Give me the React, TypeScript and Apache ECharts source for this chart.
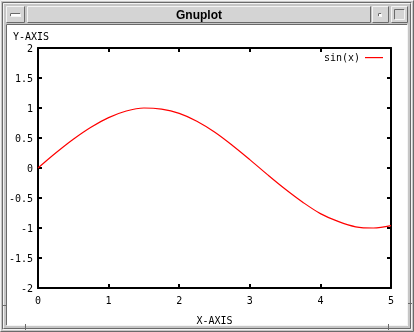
import React, { useEffect, useRef } from "react";
import * as echarts from "echarts";

const xValues = [0, 0.25, 0.5, 0.75, 1, 1.25, 1.5, 1.75, 2, 2.25, 2.5, 2.75, 3, 3.25, 3.5, 3.75, 4, 4.25, 4.5, 4.75, 5];
const yValues = [0, 0.25, 0.48, 0.68, 0.84, 0.95, 1.0, 0.98, 0.91, 0.78, 0.6, 0.38, 0.14, -0.11, -0.35, -0.57, -0.76, -0.89, -0.98, -1.0, -0.96];
const seriesName = "sin(x)";
const xTitle = "X-AXIS";
const yTitle = "Y-AXIS";
const windowTitle = "Gnuplot";

const MONO = "DejaVu Sans Mono";
const DARK = "#6a6a6a";
const LIGHT = "#f4f4f4";
const FRAME = "#c6c6c6";
const BAR = "#d4d4d4";

function bevel(x: number, y: number, w: number, h: number, fill: string, raised = true) {
  const tl = raised ? LIGHT : DARK;
  const br = raised ? DARK : LIGHT;
  return [
    { type: "rect", z: -5, silent: true, shape: { x, y, width: w, height: h }, style: { fill } },
    { type: "polyline", z: -4, silent: true, shape: { points: [[x + 0.5, y + h - 0.5], [x + 0.5, y + 0.5], [x + w - 0.5, y + 0.5]] }, style: { stroke: tl, lineWidth: 1, fill: null } },
    { type: "polyline", z: -4, silent: true, shape: { points: [[x + 0.5, y + h - 0.5], [x + w - 0.5, y + h - 0.5], [x + w - 0.5, y + 0.5]] }, style: { stroke: br, lineWidth: 1, fill: null } },
  ];
}

export default function App() {
  const ref = useRef<HTMLDivElement>(null);
  useEffect(() => {
    if (!ref.current) return;
    const chart = echarts.init(ref.current, undefined, { renderer: "svg" });
    const data = xValues.map((x, i) => [x, yValues[i]]);
    const axisCommon = {
      type: "value",
      axisLine: { show: true, onZero: false, lineStyle: { color: "#000", width: 2 } },
      axisTick: { show: true, inside: true, length: 4, lineStyle: { color: "#000", width: 2 } },
      splitLine: { show: false },
    };
    const graphics: any[] = [
      ...bevel(0, 0, 414, 332, FRAME, true),
      ...bevel(2, 2, 410, 328, FRAME, false),
      ...bevel(3, 3, 408, 326, FRAME, true),
      // buttons & title bar
      ...bevel(6, 6, 19, 17, BAR, true),
      ...bevel(10, 13, 11, 4, "#ffffff", false),
      ...bevel(27, 6, 344, 17, BAR, true),
      ...bevel(372, 6, 17, 17, BAR, true),
      ...bevel(378, 13, 4, 4, "#ffffff", false),
      ...bevel(391, 6, 17, 17, BAR, true),
      ...bevel(394, 9, 11, 11, BAR, false),
      // client area
      ...bevel(6, 24, 402, 302, "#ffffff", false),
      // notches
      { type: "line", z: -3, silent: true, shape: { x1: 25.5, y1: 324, x2: 25.5, y2: 330 }, style: { stroke: DARK, lineWidth: 1 } },
      { type: "line", z: -3, silent: true, shape: { x1: 388.5, y1: 324, x2: 388.5, y2: 330 }, style: { stroke: DARK, lineWidth: 1 } },
      { type: "line", z: -3, silent: true, shape: { x1: 2, y1: 305.5, x2: 6, y2: 305.5 }, style: { stroke: DARK, lineWidth: 1 } },
      { type: "line", z: -3, silent: true, shape: { x1: 408, y1: 303.5, x2: 412, y2: 303.5 }, style: { stroke: DARK, lineWidth: 1 } },
      {
        type: "text", z: 10, silent: true, x: 199, y: 15,
        style: { text: windowTitle, font: "bold 12px 'Liberation Sans', Arial, sans-serif", fill: "#000", align: "center", verticalAlign: "middle" },
      },
      {
        type: "text", z: 10, silent: true, x: 13, y: 36,
        style: { text: yTitle, font: `10px '${MONO}', monospace`, fill: "#000", align: "left", verticalAlign: "middle" },
      },
      // legend
      {
        type: "text", z: 10, silent: true, x: 360, y: 57,
        style: { text: seriesName, font: `10px '${MONO}', monospace`, fill: "#000", align: "right", verticalAlign: "middle" },
      },
      { type: "rect", z: 10, silent: true, shape: { x: 365, y: 57, width: 18, height: 1.2 }, style: { fill: "#ff0000" } },
    ];
    chart.setOption({
      animation: false,
      backgroundColor: "transparent",
      textStyle: { fontFamily: MONO },
      grid: { left: 38, right: 23, top: 48, bottom: 44, containLabel: false },
      xAxis: [
        {
          ...axisCommon, position: "bottom", min: 0, max: 5, interval: 1,
          name: xTitle, nameLocation: "middle", nameGap: 27,
          nameTextStyle: { color: "#000", fontSize: 10, fontFamily: MONO },
          axisLabel: { show: true, color: "#000", fontSize: 10, fontFamily: MONO, margin: 7 },
        },
        { ...axisCommon, position: "top", min: 0, max: 5, interval: 1, axisLabel: { show: false } },
      ],
      yAxis: [
        {
          ...axisCommon, position: "left", min: -2, max: 2, interval: 0.5,
          axisLabel: { show: true, color: "#000", fontSize: 10, fontFamily: MONO, margin: 5 },
        },
        { ...axisCommon, position: "right", min: -2, max: 2, interval: 0.5, axisLabel: { show: false } },
      ],
      graphic: { elements: graphics },
      series: [
        {
          type: "line", name: seriesName, data, xAxisIndex: 0, yAxisIndex: 0,
          showSymbol: false, smooth: 0.35, z: 5,
          lineStyle: { color: "#ff0000", width: 1.2 },
        },
      ],
    });
    return () => chart.dispose();
  }, []);
  return <div ref={ref} style={{ position: "fixed", left: 0, top: 0, width: 414, height: 332 }} />;
}
